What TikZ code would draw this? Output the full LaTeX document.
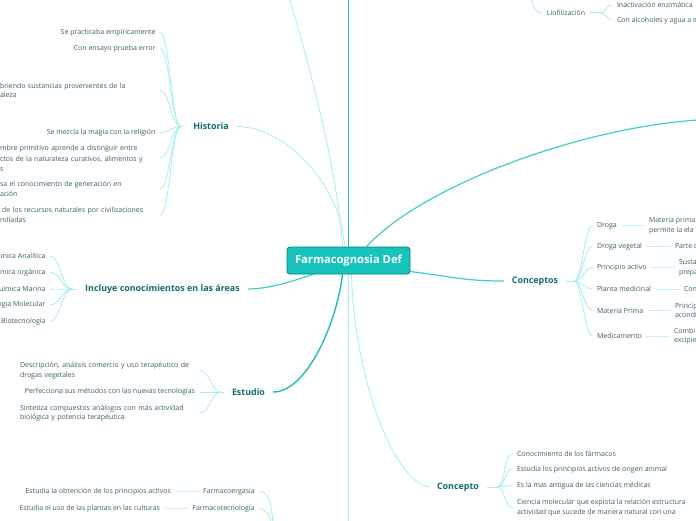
\documentclass[tikz,border=0pt]{standalone}
\usepackage{fontspec}
\setmainfont{Open Sans}
\usetikzlibrary{backgrounds}
\definecolor{leafc}{HTML}{3D6161}
\definecolor{brc}{HTML}{0F6D6D}
\definecolor{cfill}{HTML}{17C4BD}
\definecolor{cdraw}{HTML}{0C7E79}
\definecolor{lcol}{HTML}{A9EEEE}
\definecolor{scol}{HTML}{C6F4F4}
\definecolor{mcol}{HTML}{3ECFC8}
\definecolor{dcol}{HTML}{22BDB6}
\begin{document}
\begin{tikzpicture}[x=1pt,y=-1pt,
 leaf/.style={font=\fontsize{7}{9.6}\selectfont, text=leafc, inner sep=0pt, outer xsep=4.5pt, outer ysep=0pt},
 leafE/.style={leaf, anchor=east, align=right},
 leafW/.style={leaf, anchor=west, align=left},
 branch/.style={font=\bfseries\fontsize{8.9}{10}\selectfont, text=brc, inner sep=0pt, outer xsep=8pt, outer ysep=0pt},
 hub/.style={draw=cdraw, fill=cfill, line width=0.8pt, rounded corners=3pt, minimum width=123pt, minimum height=27pt, inner sep=0pt, text=white, font=\bfseries\fontsize{11.2}{13}\selectfont},
 lc/.style={draw=lcol, line width=0.8pt},
 sc/.style={draw=scol, line width=0.8pt},
 mc/.style={draw=mcol, line width=1.2pt},
 dc/.style={draw=dcol, line width=1.4pt}]
\useasboundingbox (0,0) rectangle (696,520);
\clip (0,0) rectangle (696,520);

% central node
\node[hub] (hubn) at (348.5,260.5) {Farmacognosia Def};

% Historia
\node[branch] (hist) at (211,126.5) {Historia};
\node[leafE] (h1) at (160,32.7) {Se practicaba empiricamente};
\node[leafE] (h2) at (160,48.7) {Con ensayo prueba error};
\node[leafW, text width=155.5pt] (h3) at (-4.5,90.5) {briendo sustancias provenientes de la\\aleza};
\node[leafE] (h4) at (160,132.5) {Se mezcla la magia con la religión};
\node[leafW, text width=155.5pt] (h5) at (-4.5,158) {mbre primitivo aprende a distinguir entre\\\kern2pt ctos de la naturaleza curativos, alimentos y\\s};
\node[leafW, text width=155.5pt] (h6) at (-4.5,188.7) {sa el conocimiento de generación en\\ación};
\node[leafW, text width=155.5pt] (h7) at (-4.5,215) {\kern2pt de los recursos naturales por civilizaciones\\rolladas};
\coordinate (hJ) at (181,126.5);

% Incluye
\node[branch] (incl) at (162.5,289) {Incluye conocimientos en las áreas};
\node[leafE] (i1) at (50,256) {ímica Analítica};
\node[leafE] (i2) at (50,272.3) {ímica orgánica};
\node[leafE] (i3) at (50,289) {uímica Marina};
\node[leafE] (i4) at (50,305) {ogía Molecular};
\node[leafE] (i5) at (50,321.3) {Biotecnología};
\coordinate (iJ) at (72,289);

% Estudio
\node[branch] (estu) at (248.5,392) {Estudio};
\node[leafW, text width=175.5pt] (e1) at (15.5,370.5) {Descripción, análisis comercio y uso terapéutico de\\drogas vegetales};
\node[leafE] (e2) at (199.5,392) {Perfecciona sus métodos con las nuevas tecnologías};
\node[leafW, text width=175.5pt] (e3) at (15.5,413) {Sintetiza compuestos análogos con más actividad\\biológica y potencia terapéutica};
\coordinate (eJ) at (221,392);

% bottom left
\node[leaf] (fe) at (229,491.5) {Farmacoergasia};
\node[leafE] (fl) at (175.5,491.5) {Estudia la obtención de los principios activos};
\node[leaf] (ft) at (223.5,508.5) {Farmacotecnología};
\node[leafE] (tl) at (164.5,508.5) {Estudia el uso de las plantas en las culturas};
\coordinate (fJ) at (273,535);

% Concepto
\node[branch] (conc) at (458,487) {Concepto};
\node[leafW] (c1) at (512.5,453.5) {Conocimiento de los fármacos};
\node[leafW] (c2) at (512.5,469.3) {Estudia los principios activos de origen animal};
\node[leafW] (c3) at (512.5,485.5) {Es la mas antigua de las ciencias médicas};
\node[leafW] (c4) at (512.5,507.5) {Ciencia molecular que explota la relación estructura\\actividad que sucede de manera natural con una};
\coordinate (cJ) at (497,487);

% Conceptos
\node[branch] (cons) at (535,281) {Conceptos};
\node[leafW] (k1) at (592.5,225.5) {Droga};
\node[leafW] (k2) at (592.5,246.3) {Droga vegetal};
\node[leafW] (k3) at (592.5,267.5) {Principio activo};
\node[leafW] (k4) at (592.5,289) {Planta medicinal};
\node[leafW] (k5) at (592.5,310.5) {Materia Prima};
\node[leafW] (k6) at (592.5,336.3) {Medicamento};
\node[leafW] (s1) at (644.5,225.5) {Materia prima\\permite la ela};
\node[leafW] (s2) at (670.5,246.3) {Parte d};
\node[leafW] (s3) at (674.5,267.5) {Susta\\prepa};
\node[leafW] (s4) at (679.5,289) {Con};
\node[leafW] (s5) at (670.5,310.5) {Princip\\acondi};
\node[leafW] (s6) at (669.5,336.3) {Combi\\excipie};
\coordinate (kJ) at (574,281);

% Liofilizacion
\node[leaf, outer xsep=5pt] (lio) at (566,12.7) {Liofilización};
\node[leafW] (l1) at (612.5,4.7) {Inactivación enzimática};
\node[leafW] (l2) at (612.5,20.3) {Con alcoholes y agua a e};
\coordinate (lJ) at (600,12.7);
\coordinate (lP) at (531,-3);

% free ends of main connectors
\coordinate (topV) at (348.5,-3);
\coordinate (botV) at (348.5,523);
\coordinate (ulT) at (289,-3);
\coordinate (urT) at (698,120);

\begin{scope}[on background layer]
\fill[white] (0,0) rectangle (696,520);
\clip (0,0) rectangle (696,520);
% main connectors
\draw[dc] (hubn.center) -- (topV);
\draw[lc] ([xshift=-6pt]hubn.north) .. controls +(-5,-80) and +(16,53) .. (ulT);
\draw[lc] (hist.east) .. controls +(50,0) and +(-3,-60) .. ([xshift=-4pt]hubn.north);
\draw[mc] (incl.east) .. controls +(30,0) and +(-30,12) .. (hubn.center);
\draw[dc] (estu.east) .. controls +(35,0) and +(-5,45) .. ([xshift=-6pt]hubn.south);
\draw[lc] (hubn.center) -- (botV);
\draw[lc] ([xshift=3pt]hubn.south) .. controls +(3,105) and +(-35,-5) .. (conc.west);
\draw[mc] ([yshift=-11pt]hubn.east) .. controls +(40,5) and +(-40,0) .. (cons.west);
\draw[mc] ([xshift=18pt]hubn.north) .. controls +(55,-60) and +(-120,8) .. (urT);
% Historia
\draw[lc] (hist.west) -- (hJ);
\foreach \n in {h1,h2,h3,h4,h5,h6,h7} \draw[lc] (hJ) .. controls +(-10,0) and +(10,0) .. (\n.east);
% Incluye
\draw[lc] (incl.west) -- (iJ);
\foreach \n in {i1,i2,i3,i4,i5} \draw[lc] (iJ) .. controls +(-10,0) and +(10,0) .. (\n.east);
% Estudio
\draw[lc] (estu.west) -- (eJ);
\foreach \n in {e1,e2,e3} \draw[lc] (eJ) .. controls +(-10,0) and +(10,0) .. (\n.east);
% bottom left
\draw[sc] (fl.east) -- (fe.west);
\draw[sc] (tl.east) -- (ft.west);
\draw[lc] (fe.east) .. controls +(10,0) and +(0,-30) .. (fJ);
\draw[lc] (ft.east) .. controls +(8,0) and +(0,-15) .. (fJ);
% Concepto
\draw[lc] (conc.east) -- (cJ);
\foreach \n in {c1,c2,c3,c4} \draw[lc] (cJ) .. controls +(8,0) and +(-8,0) .. (\n.west);
% Conceptos
\draw[lc] (cons.east) -- (kJ);
\foreach \n in {k1,k2,k3,k4,k5,k6} \draw[lc] (kJ) .. controls +(8,0) and +(-8,0) .. (\n.west);
\draw[sc] (k1.east) -- (s1.west);
\draw[sc] (k2.east) -- (s2.west);
\draw[sc] (k3.east) -- (s3.west);
\draw[sc] (k4.east) -- (s4.west);
\draw[sc] (k5.east) -- (s5.west);
\draw[sc] (k6.east) -- (s6.west);
% Liofilizacion
\draw[lc] (lP) .. controls +(2,11) and +(-6,0) .. (lio.west);
\draw[lc] (lio.east) -- (lJ);
\foreach \n in {l1,l2} \draw[lc] (lJ) .. controls +(6,0) and +(-6,0) .. (\n.west);
\end{scope}
\end{tikzpicture}
\end{document}
